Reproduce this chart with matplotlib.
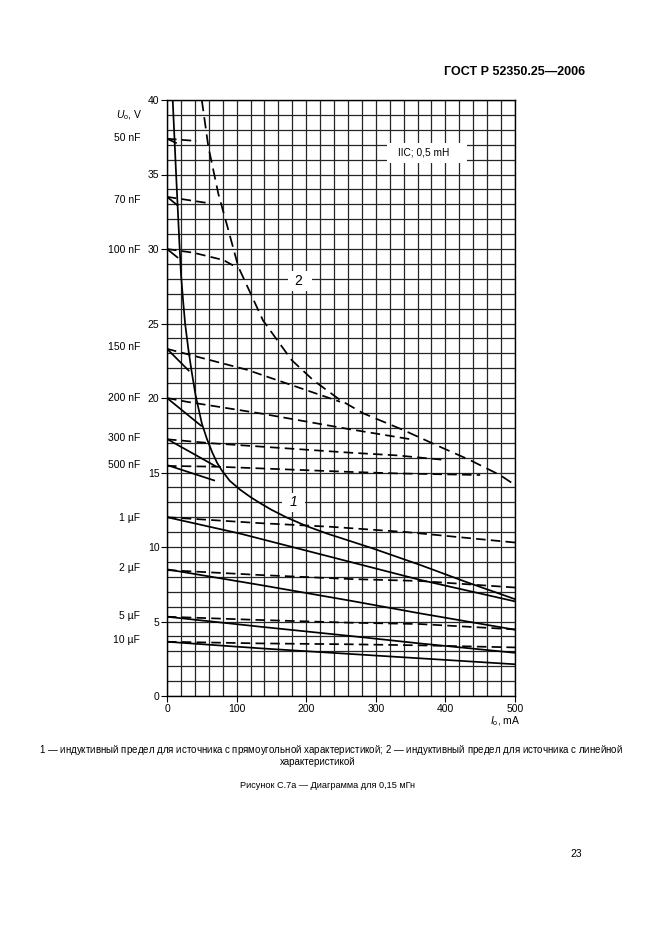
import matplotlib
matplotlib.use("Agg")
import matplotlib.pyplot as plt
import matplotlib.transforms as mtransforms
from matplotlib.ticker import MultipleLocator
from matplotlib.patches import Rectangle

plt.rcParams['font.family'] = ['Liberation Sans', 'DejaVu Sans']
plt.rcParams['mathtext.fontset'] = 'custom'
plt.rcParams['mathtext.rm'] = 'Liberation Sans'
plt.rcParams['mathtext.it'] = 'Liberation Sans:italic'

# ---------------- data ----------------
# inductive limit curves
curve1_I = [8.2, 13, 17.7, 20.1, 23, 26, 30.6, 35, 41, 50, 57, 65, 72, 78.6, 90, 105, 120, 133.6,
            150, 172, 200.7, 230, 248.6, 296, 363.5, 430, 500]
curve1_U = [40, 35.1, 30.5, 28.3, 26.6, 25.0, 23.3, 21.9, 20.2, 18.3, 17.3, 16.35, 15.65, 15.15, 14.45,
            13.85, 13.35, 12.95, 12.5, 11.98, 11.4, 10.9, 10.62, 9.9, 8.8, 7.65, 6.5]
curve2_I = [50, 59.4, 73.8, 88, 102.5, 138, 179, 210, 248.6, 282, 339.5, 392, 435, 478.4, 500]
curve2_U = [40, 36.87, 33.7, 31.3, 28.8, 25.2, 22.55, 21.2, 19.87, 18.97, 17.85, 16.73, 15.84, 14.83, 14.16]

cap_labels = ['50 nF', '70 nF', '100 nF', '150 nF', '200 nF', '300 nF', '500 nF',
              '1 \u00b5F', '2 \u00b5F', '5 \u00b5F', '10 \u00b5F']
cap_label_U = [37.45, 33.3, 29.9, 23.4, 20.0, 17.3, 15.5, 11.95, 8.6, 5.37, 3.76]

# solid lines (rectangular source)
solid_I = [
    [0, 14], [0, 16], [0, 16], [0, 32], [0, 50], [0, 71], [0, 69],
    [0, 105, 234, 363, 500], [0, 134, 263, 363, 500],
    [0, 134, 263, 363, 500], [0, 134, 250, 363, 500],
]
solid_U = [
    [37.4, 37.1], [33.5, 32.9], [30.0, 29.4], [23.3, 21.8], [20.0, 18.1], [17.25, 15.39], [15.5, 14.45],
    [12.0, 10.9, 9.35, 7.8, 6.35], [8.5, 7.45, 6.4, 5.55, 4.45],
    [5.32, 4.65, 4.03, 3.53, 2.9], [3.64, 3.2, 2.86, 2.53, 2.13],
]
# dashed lines (linear source)
dashed_I = [
    [0, 42.6], [0, 62], [0, 38, 81, 102.5], [0, 114.5, 248.6], [0, 28, 133.6, 263, 354],
    [0, 61.8, 263, 330, 400], [0, 71.4, 263, 330, 450],
    [0, 134, 234, 344, 500], [0, 134, 263, 363, 500],
    [0, 134, 263, 363, 500], [0, 134, 263, 363, 500],
]
dashed_U = [
    [37.4, 37.25], [33.5, 33.06], [30.0, 29.75, 29.26, 28.7], [23.3, 21.9, 19.75], [20.0, 19.75, 18.97, 17.9, 17.2],
    [17.23, 16.97, 16.33, 16.15, 15.84], [15.44, 15.39, 15.04, 14.94, 14.83],
    [12.0, 11.6, 11.36, 11.0, 10.3], [8.45, 8.12, 7.85, 7.72, 7.28],
    [5.32, 5.10, 4.92, 4.83, 4.47], [3.64, 3.53, 3.47, 3.4, 3.26],
]

x_ticks = [0, 100, 200, 300, 400, 500]
y_ticks = [0, 5, 10, 15, 20, 25, 30, 35, 40]

# ---------------- figure ----------------
W, H = 661, 936
fig = plt.figure(figsize=(W / 100, H / 100), dpi=100)
fig.patch.set_facecolor('white')
ax = fig.add_axes([167 / W, 1 - 696 / H, 348 / W, 596 / H])
ax.set_xlim(0, 500)
ax.set_ylim(0, 40)

ax.xaxis.set_minor_locator(MultipleLocator(20))
ax.yaxis.set_minor_locator(MultipleLocator(1))
ax.set_xticks(x_ticks)
ax.set_yticks(y_ticks)
ax.grid(which='both', color='#262626', linewidth=0.9)
ax.set_axisbelow(True)
ax.tick_params(which='major', direction='out', length=4, width=0.8, labelsize=7.5, pad=1.5, color='black')
ax.tick_params(which='minor', length=0)
for s in ax.spines.values():
    s.set_linewidth(1.0)
    s.set_color('black')

lw = 1.25
for xi, yi in zip(solid_I, solid_U):
    ax.plot(xi, yi, color='black', lw=lw, solid_capstyle='butt', solid_joinstyle='round', zorder=3)
for xi, yi in zip(dashed_I, dashed_U):
    ax.plot(xi, yi, color='black', lw=lw, dashes=(5.5, 3), zorder=3)
ax.plot(curve1_I, curve1_U, color='black', lw=lw, solid_joinstyle='round', zorder=3)
ax.plot(curve2_I, curve2_U, color='black', lw=lw, dashes=(6.5, 3.5), zorder=3)

# capacitance labels
trans = mtransforms.blended_transform_factory(ax.transAxes, ax.transData)
for lab, u in zip(cap_labels, cap_label_U):
    ax.text((140 - 167) / 348, u, lab, transform=trans, ha='right', va='center', fontsize=7.5)

# axis titles
ax.text((142 - 167) / 348, 39.0, r'$\mathit{U}_{\mathrm{o}}$, V', transform=trans,
        ha='right', va='center', fontsize=7.5)
ax.text(1 + 6 / 348, -1.7, r'$\mathit{I}_{\mathrm{o}}$, mA', transform=trans,
        ha='right', va='center', fontsize=7.5, clip_on=False)

# white backgrounds behind in-plot labels (in axes fraction)
def white_box(x0px, y0px, x1px, y1px):
    ax.add_patch(Rectangle(((x0px - 167) / 348, (696 - y1px) / 596), (x1px - x0px) / 348,
                           (y1px - y0px) / 596, transform=ax.transAxes, facecolor='white',
                           edgecolor='none', zorder=2.5))

white_box(387, 143, 467, 163)
white_box(288, 271, 312, 291)
white_box(282, 493, 305, 512)

ax.text(188, 27.85, '2', ha='center', va='center', fontsize=10, zorder=4)
ax.text(182, 13.0, '1', ha='center', va='center', fontsize=10, style='italic', zorder=4)
ax.text(369, 36.45, 'IIC; 0,5 mH', ha='center', va='center', fontsize=7.3, zorder=4)

# page texts
def ftext(x, y, s, **kw):
    fig.text(x / W, 1 - y / H, s, **kw)

ftext(585, 72, 'ГОСТ Р 52350.25—2006', ha='right', va='center', fontsize=9, fontweight='bold')
ftext(331, 750, '$\\mathit{1}$ — индуктивный предел для источника с прямоугольной характеристикой; '
      '$\\mathit{2}$ — индуктивный предел для источника с линейной', ha='center', va='center', fontsize=7.0)
ftext(318, 762, 'характеристикой', ha='center', va='center', fontsize=7.0)
ftext(328, 786, 'Рисунок С.7а — Диаграмма для 0,15 мГн', ha='center', va='center', fontsize=6.6)
ftext(576, 854, '23', ha='center', va='center', fontsize=7.5)

fig.savefig('out.png', dpi=100, facecolor='white')
